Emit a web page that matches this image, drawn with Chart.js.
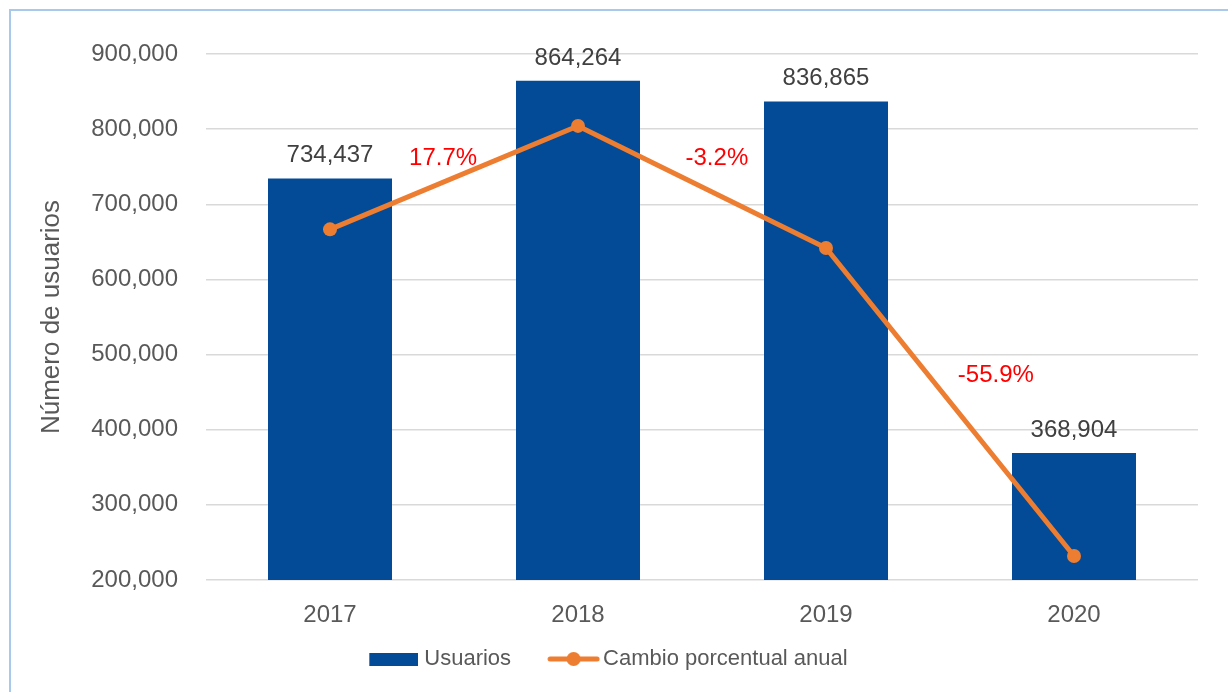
<!DOCTYPE html>
<html>
<head>
<meta charset="utf-8">
<script src="https://cdn.jsdelivr.net/npm/chart.js@4.4.1/dist/chart.umd.min.js"></script>
<style>
  html, body { margin: 0; padding: 0; background: #fff; }
  #wrap { position: relative; width: 1228px; height: 692px; overflow: hidden; }
  #frame { position: absolute; left: 9px; top: 9px; width: 1240px; height: 700px;
           border-left: 2px solid #a9c9ec; border-top: 2px solid #a9c9ec; }
  canvas { position: absolute; left: 0; top: 0; }
</style>
</head>
<body>
<div id="wrap">
  <div id="frame"></div>
  <canvas id="chart" width="1228" height="692"></canvas>
</div>
<script>
const years    = ["2017", "2018", "2019", "2020"];
const usuarios = [734437, 864264, 836865, 368904];
const cambio   = [0, 17.7, -3.2, -55.9];   // % change, first year has no label
const yTicks   = [200000, 300000, 400000, 500000, 600000, 700000, 800000, 900000];

const BLUE   = "#034b96";
const ORANGE = "#ed7d31";
const GREY   = "#595959";

Chart.defaults.font.family = "'Liberation Sans', Arial, sans-serif";

// legend swatches (drawn as little canvases, visible part on the right side)
const BOX = 63;
function swatch(kind) {
  const c = document.createElement("canvas");
  if (kind === "bar") {
    c.width = BOX + 10; c.height = 13;
    const g = c.getContext("2d");
    g.fillStyle = BLUE;
    g.fillRect(c.width - 49, 0, 49, 13);
  } else {
    c.width = BOX + 16; c.height = 16;
    const g = c.getContext("2d");
    g.strokeStyle = ORANGE; g.lineWidth = 5; g.lineCap = "round";
    g.beginPath(); g.moveTo(c.width - 50, 8); g.lineTo(c.width - 3, 8); g.stroke();
    g.fillStyle = ORANGE;
    g.beginPath(); g.arc(c.width - 26.5, 8, 7, 0, Math.PI * 2); g.fill();
  }
  return c;
}
const swatches = [swatch("bar"), swatch("line")];

// label spots for the % values, in (category index, % axis) units
const pctSpots = { 1: [0.456, 12.4], 2: [1.56, 12.4], 3: [2.685, -24.7] };

const labelsPlugin = {
  id: "labels",
  afterDatasetsDraw(chart) {
    const ctx = chart.ctx;
    ctx.save();
    ctx.font = "24px 'Liberation Sans', Arial, sans-serif";
    ctx.textAlign = "center";
    ctx.textBaseline = "alphabetic";
    // bar values
    ctx.fillStyle = "#404040";
    chart.getDatasetMeta(0).data.forEach((bar, i) => {
      ctx.fillText(usuarios[i].toLocaleString("en-US"), bar.x, bar.y - 16);
    });
    // % labels
    ctx.fillStyle = "#ff0000";
    const xs = chart.scales.x, y1 = chart.scales.y1;
    cambio.forEach((v, i) => {
      const spot = pctSpots[i];
      if (!spot) return;
      const px = xs.getPixelForValue(spot[0]);
      const py = y1.getPixelForValue(spot[1]);
      ctx.fillText(v.toFixed(1) + "%", px, py + 8.5);
    });
    ctx.restore();
  }
};

new Chart(document.getElementById("chart"), {
  type: "bar",
  data: {
    labels: years,
    datasets: [
      { type: "bar", label: "Usuarios", data: usuarios, backgroundColor: BLUE,
        barPercentage: 0.5, categoryPercentage: 1, yAxisID: "y", order: 1 },
      { type: "line", label: "Cambio porcentual anual", data: cambio, borderColor: ORANGE,
        backgroundColor: ORANGE, borderWidth: 5, pointRadius: 7, pointHoverRadius: 7,
        pointBorderWidth: 0, tension: 0, yAxisID: "y1", order: 0 }
    ]
  },
  options: {
    responsive: false,
    animation: false,
    layout: { padding: { left: 0, right: 30, top: 54, bottom: 12 } },
    plugins: {
      tooltip: { enabled: false },
      legend: {
        position: "bottom",
        labels: {
          usePointStyle: true,
          pointStyleWidth: BOX,
          padding: 18,
          color: GREY,
          font: { size: 22 },
          sort: (a, b) => a.datasetIndex - b.datasetIndex,
          generateLabels(chart) {
            const items = Chart.defaults.plugins.legend.labels.generateLabels(chart);
            items.forEach(it => { it.pointStyle = swatches[it.datasetIndex]; });
            return items;
          }
        }
      }
    },
    scales: {
      x: {
        grid: { display: false },
        border: { display: false },
        ticks: { color: GREY, font: { size: 24 }, padding: 13 },
        afterFit(s) { s.height = 50; }
      },
      y: {
        min: 200000, max: 900000,
        afterBuildTicks(s) { s.ticks = yTicks.map(v => ({ value: v })); },
        ticks: { color: GREY, font: { size: 24 }, padding: 28,
                 callback: v => v.toLocaleString("en-US") },
        grid: { color: "#d9d9d9", lineWidth: 1.5, drawTicks: false },
        border: { display: false },
        title: { display: true, text: "Número de usuarios", color: GREY,
                 font: { size: 26 }, padding: { top: 36, bottom: 0 } },
        afterFit(s) { s.width = 206; }
      },
      y1: {
        display: false, min: -60, max: 30, position: "right",
        grid: { display: false }
      }
    }
  },
  plugins: [labelsPlugin]
});
</script>
</body>
</html>
